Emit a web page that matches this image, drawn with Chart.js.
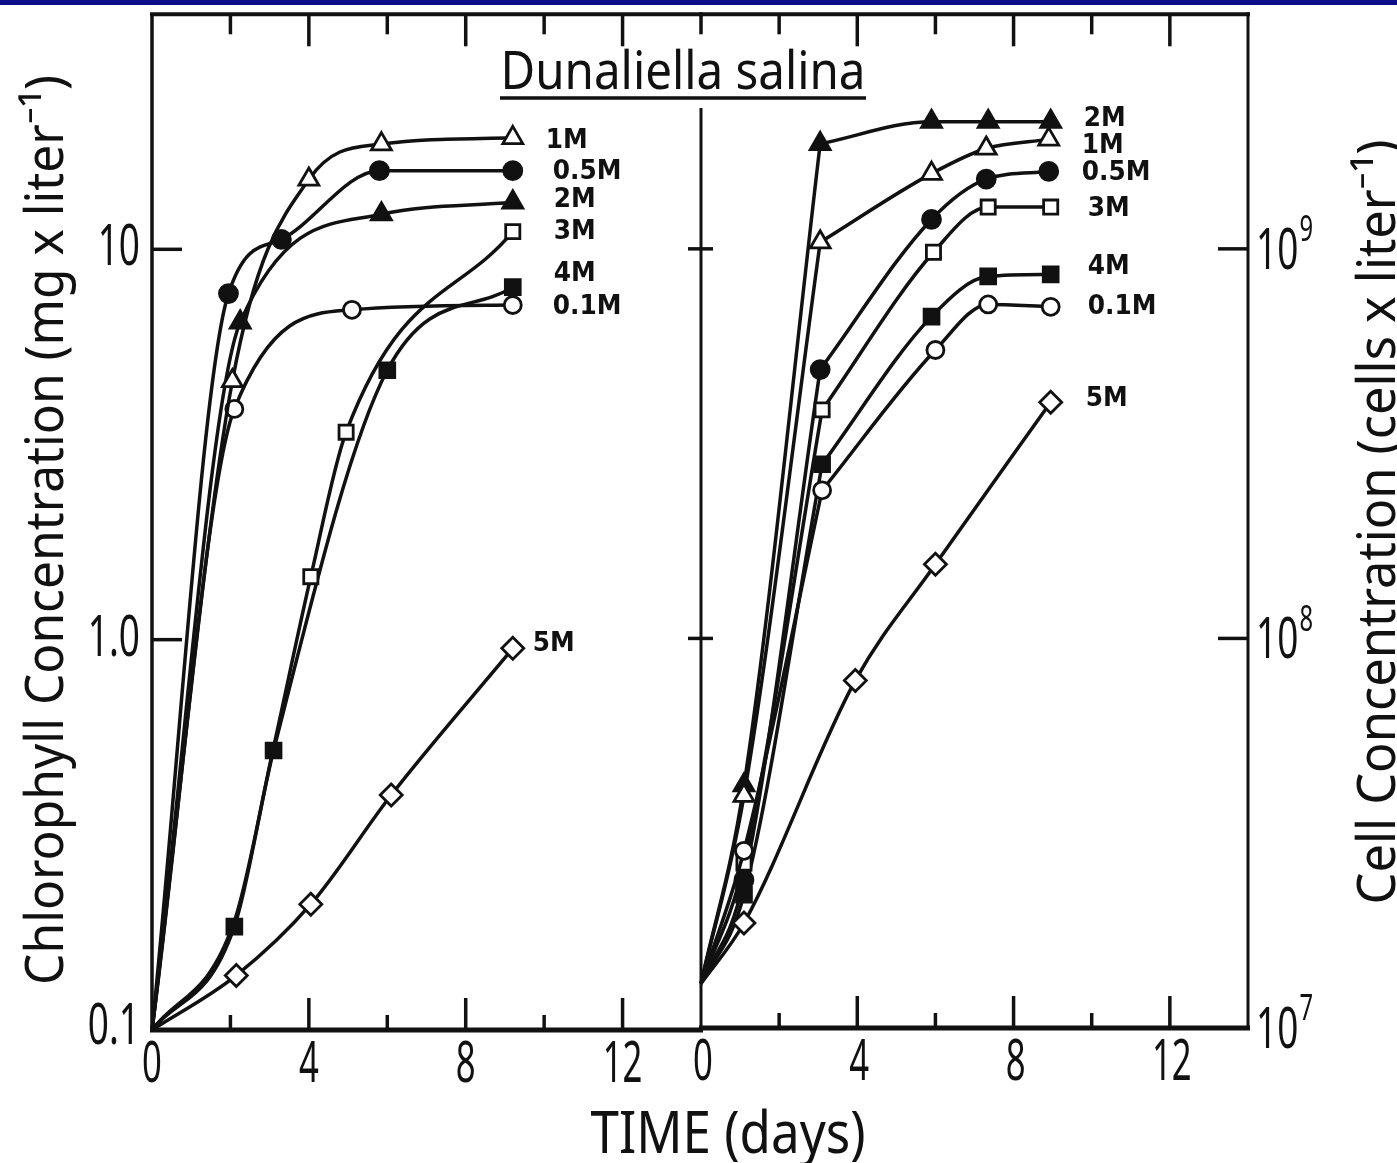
<!DOCTYPE html>
<html>
<head>
<meta charset="utf-8">
<script src="https://cdn.jsdelivr.net/npm/chart.js@4.4.1/dist/chart.umd.min.js"></script>
<style>
html,body{margin:0;padding:0;background:#fff;}
#wrap{position:relative;width:1397px;height:1163px;overflow:hidden;background:#fff;}
#wrap canvas{position:absolute;left:0;top:0;}
#bar{position:absolute;left:0;top:0;width:1397px;height:5px;background:#0d0d8a;}
</style>
</head>
<body>
<div id="wrap">
  <canvas id="cL" width="1397" height="1163"></canvas>
  <canvas id="cR" width="1397" height="1163"></canvas>
  <div id="bar"></div>
</div>
<script>
// ---------------- DATA ----------------
// Each point: [day, value] ; a third element 0 marks a point read off the drawn
// curve where no symbol is plotted (the curve's start, or where it runs under another curve).
const seriesLabels = ['1M', '0.5M', '2M', '3M', '4M', '0.1M', '5M'];

// Left panel: chlorophyll concentration (mg / liter) vs time (days)
const chl_1M  = [[0, 0.1, 0], [2.05, 4.6], [4.0, 15.1], [5.85, 18.6], [9.2, 19.3]];
const chl_05M = [[0, 0.1, 0], [1.95, 7.7], [3.3, 10.6], [5.8, 15.9], [9.2, 15.9]];
const chl_2M  = [[0, 0.1, 0], [2.25, 6.5], [5.85, 12.3], [9.2, 13.2]];
const chl_3M  = [[0, 0.1, 0], [2.1, 0.19, 0], [3.1, 0.53, 0], [4.05, 1.45], [4.95, 3.4], [9.2, 11.1]];
const chl_4M  = [[0, 0.1, 0], [2.1, 0.184], [3.1, 0.52], [6.0, 4.9], [9.2, 8.0]];
const chl_01M = [[0, 0.1, 0], [2.1, 3.9], [5.1, 7.0], [9.2, 7.2]];
const chl_5M  = [[0, 0.1, 0], [2.15, 0.138], [4.05, 0.21], [6.1, 0.40], [9.2, 0.95]];

// Right panel: cell concentration (cells / liter) vs time (days)
const cell_2M  = [[0, 1.3e7, 0], [1.1, 4.2e7], [3.05, 1.86e9], [5.9, 2.12e9], [7.35, 2.12e9], [8.95, 2.12e9]];
const cell_1M  = [[0, 1.3e7, 0], [1.1, 3.95e7], [3.05, 1.04e9], [5.9, 1.56e9], [7.3, 1.81e9], [8.9, 1.91e9]];
const cell_05M = [[0, 1.3e7, 0], [1.1, 2.4e7], [3.05, 4.9e8], [5.9, 1.19e9], [7.3, 1.51e9], [8.9, 1.58e9]];
const cell_3M  = [[0, 1.3e7, 0], [1.1, 2.65e7], [3.1, 3.86e8], [5.95, 9.8e8], [7.35, 1.28e9], [8.95, 1.28e9]];
const cell_4M  = [[0, 1.3e7, 0], [1.1, 2.2e7], [3.1, 2.8e8], [5.9, 6.7e8], [7.35, 8.5e8], [8.95, 8.6e8]];
const cell_01M = [[0, 1.3e7, 0], [1.1, 2.85e7], [3.1, 2.4e8], [6.0, 5.5e8], [7.35, 7.2e8], [8.95, 7.1e8]];
const cell_5M  = [[0, 1.3e7, 0], [1.1, 1.86e7], [3.95, 7.8e7], [6.0, 1.55e8], [8.95, 4.04e8]];

// Axis tick values / labels
const dayTickLabels = [0, 4, 8, 12];
const dayMinorTicks = [2, 4, 6, 8, 10, 12, 14];
const chlTickValues = [0.1, 1, 10];
const chlTickLabels = ['0.1', '1.0', '10'];
const cellTickExponents = [7, 8, 9];

// Text
const titleText = 'Dunaliella salina';
const xTitle = 'TIME (days)';
const yTitleLeft = 'Chlorophyll Concentration (mg x liter\u207B\u00B9)';
const yTitleRight = 'Cell Concentration (cells x liter\u207B\u00B9)';

// ---------------- STYLE ----------------
const W = 1397, H = 1163;
const INK = '#111';
const markerStyle = {
  '1M':   {style: 'triangle', fill: '#fff', r: 11.5},
  '0.5M': {style: 'circle',   fill: INK,    r: 9},
  '2M':   {style: 'triangle', fill: INK,    r: 11.5},
  '3M':   {style: 'rect',     fill: '#fff', r: 10},
  '4M':   {style: 'rect',     fill: INK,    r: 10.5},
  '0.1M': {style: 'circle',   fill: '#fff', r: 8.5},
  '5M':   {style: 'rectRot',  fill: '#fff', r: 11}
};
// label offsets relative to last marker [dx, dy]
const labelOffsetLeft  = {'1M':[33,3], '0.5M':[40,1], '2M':[41,-2], '3M':[41,0], '4M':[41,-13], '0.1M':[40,2], '5M':[20,-4]};
const labelOffsetRight = {'2M':[33,-3], '1M':[33,7], '0.5M':[33,2], '3M':[37,2], '4M':[37,-7], '0.1M':[37,0], '5M':[35,-3]};

function toPts(arr) { return arr.map(p => ({x: p[0], y: p[1], m: p.length < 3})); }

function makeDataset(label, arr, opts) {
  const m = markerStyle[label];
  const pts = toPts(arr);
  if (opts && opts.noLastMarker) pts[pts.length - 1].m = false;
  return {
    label: label,
    noLabel: !!(opts && opts.noLabel),
    data: pts,
    borderColor: INK,
    borderWidth: 3.5,
    cubicInterpolationMode: 'monotone',
    fill: false,
    pointStyle: m.style,
    pointRadius: ctx => (ctx.raw && ctx.raw.m) ? m.r : 0,
    pointBackgroundColor: m.fill,
    pointBorderColor: INK,
    pointBorderWidth: 2.8,
    clip: false
  };
}

// The hand-drawn growth curves bend sharply at the day-3 symbol: draw the rise and
// the plateau as two smooth pieces that meet at that symbol.
function makeSplit(label, arr, k) {
  return [
    makeDataset(label, arr.slice(k), {}),
    makeDataset(label, arr.slice(0, k + 1), {noLastMarker: true, noLabel: true})
  ];
}

function fitText(ctx, text, x, y, font, targetW, align, rot, baseline) {
  ctx.save();
  ctx.font = font;
  const w = ctx.measureText(text).width;
  const sx = targetW ? targetW / w : 1;
  ctx.translate(x, y);
  if (rot) ctx.rotate(rot);
  ctx.scale(sx, 1);
  ctx.textAlign = align || 'center';
  ctx.textBaseline = baseline || 'alphabetic';
  ctx.fillStyle = INK;
  ctx.fillText(text, 0, 0);
  ctx.restore();
}

function line(ctx, x1, y1, x2, y2, lw) {
  ctx.beginPath();
  ctx.lineWidth = lw;
  ctx.moveTo(x1, y1);
  ctx.lineTo(x2, y2);
  ctx.stroke();
}

function lastMarker(meta, ds) {
  for (let k = ds.data.length - 1; k >= 0; k--) {
    if (ds.data[k].m) return meta.data[k];
  }
  return meta.data[meta.data.length - 1];
}

function drawSeriesLabels(chart, offsets) {
  const ctx = chart.ctx;
  ctx.save();
  ctx.font = 'bold 27px "DejaVu Sans", sans-serif';
  ctx.fillStyle = INK;
  ctx.textAlign = 'left';
  ctx.textBaseline = 'middle';
  chart.data.datasets.forEach((ds, i) => {
    if (ds.noLabel) return;
    const meta = chart.getDatasetMeta(i);
    const last = lastMarker(meta, ds);
    const off = offsets[ds.label];
    ctx.save();
    ctx.translate(last.x + off[0], last.y + off[1]);
    ctx.scale(0.92, 1);
    ctx.fillText(ds.label, 0, 0);
    ctx.restore();
  });
  ctx.restore();
}

function drawDayLabels(ctx, xs, a, dx) {
  dayTickLabels.forEach(d => {
    const px = xs.getPixelForValue(d);
    ctx.save();
    ctx.font = '56px "Noto Sans", sans-serif';
    ctx.fillStyle = INK;
    ctx.textAlign = 'center';
    ctx.textBaseline = 'alphabetic';
    ctx.translate(px + dx, a.bottom + 52);
    ctx.scale(0.62, 1);
    ctx.fillText(String(d), 0, 0);
    ctx.restore();
  });
}

const leftPlugin = {
  id: 'leftPanel',
  afterDatasetsDraw(chart) {
    const ctx = chart.ctx, a = chart.chartArea, xs = chart.scales.x, ys = chart.scales.y;
    ctx.save();
    ctx.strokeStyle = INK;
    ctx.lineCap = 'butt';
    // frame
    line(ctx, a.left - 2, a.top, a.right + 2, a.top, 4);
    line(ctx, a.left, a.top, a.left, a.bottom + 2, 3.5);
    line(ctx, a.left - 2, a.bottom, a.right + 2, a.bottom, 5);
    // x ticks
    dayMinorTicks.forEach(d => {
      const px = xs.getPixelForValue(d);
      const major = d % 4 === 0;
      line(ctx, px, a.top, px, a.top + (major ? 32 : 20), 3.5);
      if (d < 14) line(ctx, px, a.bottom, px, a.bottom - (major ? 32 : 15), 3.5);
    });
    // y ticks (inward)
    chlTickValues.slice(1).forEach(v => {
      const py = ys.getPixelForValue(v);
      line(ctx, a.left, py, a.left + 30, py, 3.5);
    });
    drawDayLabels(ctx, xs, a, 0);
    // y tick labels
    chlTickValues.forEach((v, i) => {
      const py = ys.getPixelForValue(v);
      ctx.save();
      ctx.font = '56px "Noto Sans", sans-serif';
      ctx.fillStyle = INK;
      ctx.textAlign = 'right';
      ctx.textBaseline = 'middle';
      ctx.translate(a.left - 12, py + (i === 0 ? -2 : 0));
      ctx.scale(0.66, 1);
      ctx.fillText(chlTickLabels[i], 0, 0);
      ctx.restore();
    });
    drawSeriesLabels(chart, labelOffsetLeft);
    // title
    fitText(ctx, titleText, 683, 89, '52px "Noto Sans", sans-serif', 365, 'center');
    line(ctx, 500, 98, 866, 98, 3.5);
    // x axis title (spans both panels)
    fitText(ctx, xTitle, 728, 1153, '58px "Noto Sans", sans-serif', 275, 'center');
    // left y title
    fitText(ctx, yTitleLeft, 63, 530, '53px "Noto Sans", sans-serif', 910, 'center', -Math.PI / 2);
    ctx.restore();
  }
};

const rightPlugin = {
  id: 'rightPanel',
  afterDatasetsDraw(chart) {
    const ctx = chart.ctx, a = chart.chartArea, xs = chart.scales.x, ys = chart.scales.y;
    ctx.save();
    ctx.strokeStyle = INK;
    // frame
    line(ctx, a.left - 2, a.top, a.right + 2, a.top, 4);
    line(ctx, a.left, 108, a.left, a.bottom + 2, 3);
    line(ctx, a.right, a.top - 2, a.right, a.bottom + 2, 3);
    line(ctx, a.left - 2, a.bottom, a.right + 2, a.bottom, 5);
    dayMinorTicks.forEach(d => {
      if (d >= 14) return;
      const px = xs.getPixelForValue(d);
      const major = d % 4 === 0;
      line(ctx, px, a.top, px, a.top + (major ? 32 : 20), 3.5);
      line(ctx, px, a.bottom, px, a.bottom - (major ? 32 : 15), 3.5);
    });
    cellTickExponents.slice(1).forEach(e => {
      const py = ys.getPixelForValue(Math.pow(10, e));
      line(ctx, a.left - 13, py, a.left + 12, py, 3.5);
      line(ctx, a.right - 30, py, a.right, py, 3.5);
    });
    drawDayLabels(ctx, xs, a, 2);
    cellTickExponents.forEach(e => {
      const py = ys.getPixelForValue(Math.pow(10, e));
      ctx.save();
      ctx.fillStyle = INK;
      ctx.textBaseline = 'middle';
      ctx.textAlign = 'left';
      ctx.font = '56px "Noto Sans", sans-serif';
      ctx.translate(a.right + 8, py + 4);
      ctx.scale(0.66, 1);
      ctx.fillText('10', 0, 0);
      const w = ctx.measureText('10').width;
      ctx.font = '36px "Noto Sans", sans-serif';
      ctx.fillText(String(e), w + 2, -22);
      ctx.restore();
    });
    drawSeriesLabels(chart, labelOffsetRight);
    fitText(ctx, yTitleRight, 1395, 522, '53px "Noto Sans", sans-serif', 765, 'center', -Math.PI / 2);
    ctx.restore();
  }
};

function baseOptions(pad, yMin, yMax) {
  return {
    responsive: false,
    animation: false,
    devicePixelRatio: 1,
    layout: {padding: pad},
    events: [],
    plugins: {legend: {display: false}, tooltip: {enabled: false}, title: {display: false}},
    scales: {
      x: {type: 'linear', min: 0, max: 14, display: false},
      y: {type: 'logarithmic', min: yMin, max: yMax, display: false}
    }
  };
}

new Chart(document.getElementById('cL'), {
  type: 'line',
  data: {
    datasets: [
      makeDataset('1M', chl_1M),
      makeDataset('0.1M', chl_01M),
      makeDataset('0.5M', chl_05M),
      makeDataset('2M', chl_2M),
      makeDataset('3M', chl_3M),
      makeDataset('4M', chl_4M),
      makeDataset('5M', chl_5M)
    ]
  },
  options: baseOptions({left: 152, right: W - 701, top: 12, bottom: H - 1030}, 0.1, 40),
  plugins: [leftPlugin]
});

const SPLIT_AT = 2; // index of the day-3 symbol in the cell arrays
new Chart(document.getElementById('cR'), {
  type: 'line',
  data: {
    datasets: [
      ...makeSplit('1M', cell_1M, SPLIT_AT),
      ...makeSplit('0.1M', cell_01M, SPLIT_AT),
      ...makeSplit('3M', cell_3M, SPLIT_AT),
      makeDataset('5M', cell_5M),
      ...makeSplit('2M', cell_2M, SPLIT_AT),
      ...makeSplit('0.5M', cell_05M, SPLIT_AT),
      ...makeSplit('4M', cell_4M, SPLIT_AT)
    ]
  },
  options: baseOptions({left: 701, right: W - 1248, top: 12, bottom: H - 1028}, 1e7, 4e9),
  plugins: [rightPlugin]
});
</script>
</body>
</html>
